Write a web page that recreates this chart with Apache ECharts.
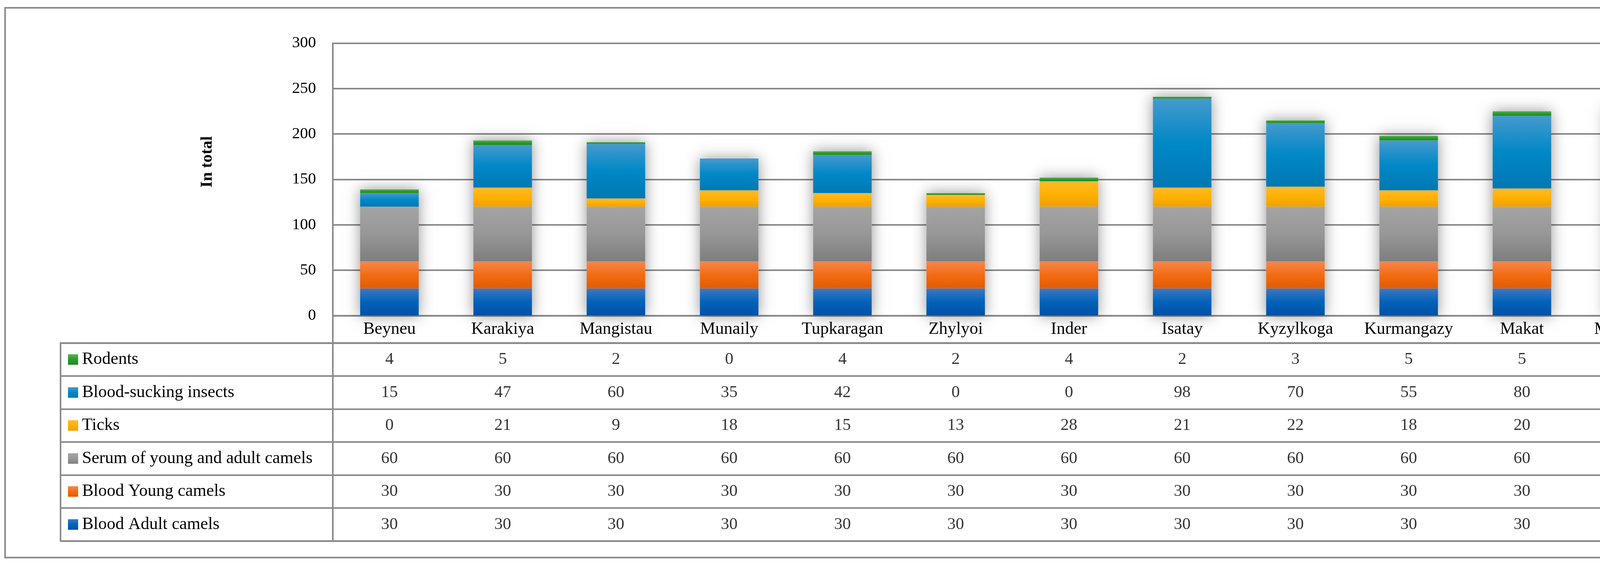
<!DOCTYPE html>
<html>
<head>
<meta charset="utf-8">
<script src="https://cdn.jsdelivr.net/npm/echarts@6.0.0/dist/echarts.min.js"></script>
<style>
html,body{margin:0;padding:0;background:#fff;}
#chart{width:4444px;height:1447px;}
</style>
</head>
<body>
<div id="chart"></div>
<script>
// ---- data ----
const districts = ['Beyneu','Karakiya','Mangistau','Munaily','Tupkaragan','Zhylyoi','Inder','Isatay','Kyzylkoga','Kurmangazy','Makat','Makhambet'];
const bloodAdultCamels = [30,30,30,30,30,30,30,30,30,30,30,30];
const bloodYoungCamels = [30,30,30,30,30,30,30,30,30,30,30,30];
const serumCamels      = [60,60,60,60,60,60,60,60,60,60,60,60];
const ticks            = [0,21,9,18,15,13,28,21,22,18,20,20];
const bloodSuckingInsects = [15,47,60,35,42,0,0,98,70,55,80,85];
const rodents          = [4,5,2,0,4,2,4,2,3,5,5,4];
const seriesNames = ['Blood Adult camels','Blood Young camels','Serum of young and adult camels','Ticks','Blood-sucking insects','Rodents'];
const yAxisMin = 0, yAxisMax = 300, yAxisStep = 50;
const yAxisTitle = 'In total';

// ---- styling ----
const FONT = "'Palatino Linotype','Book Antiqua',Palatino,'Liberation Serif',serif";
const LINE = '#898989';
const grad = (c) => new echarts.graphic.LinearGradient(0,0,0,1,[
  {offset:0,color:c[0]},{offset:0.5,color:c[1]},{offset:1,color:c[2]}]);
const palettes = [
  ['#3f78c3','#0062b9','#0051a5'],
  ['#f5874f','#f36c14','#e35b00'],
  ['#a4a4a4','#979797','#7e7e7e'],
  ['#ffb92e','#ffb100','#f0a000'],
  ['#469acd','#0088c7','#0078b2'],
  ['#5cb258','#2a9a2a','#1d8a1d']
];
const seriesData = [bloodAdultCamels, bloodYoungCamels, serumCamels, ticks, bloodSuckingInsects, rodents];
const totals = districts.map((d,i)=>seriesData.reduce((s,arr)=>s+arr[i],0));

const BAR_W = '51.7%';
const series = [];
// shadow backdrop for each whole column
series.push({
  type:'bar', name:'_shadow', data: totals, xAxisIndex:0, yAxisIndex:0,
  barWidth: BAR_W, barGap:'-100%', z:1, silent:true,
  itemStyle:{color:'#ffffff', shadowBlur:34, shadowColor:'rgba(0,0,0,0.42)'}
});
seriesNames.forEach((n,k)=>{
  series.push({
    type:'bar', name:n, stack:'total', data: seriesData[k],
    xAxisIndex:0, yAxisIndex:0, barWidth: BAR_W, barGap:'-100%', z:3,
    itemStyle:{color: grad(palettes[k])}
  });
});
// table cells
const cellData = [];
seriesNames.forEach((n,k)=>{
  districts.forEach((d,i)=>{ cellData.push({value:[d, n, seriesData[k][i]]}); });
});
series.push({
  type:'scatter', xAxisIndex:3, yAxisIndex:3, data: cellData, symbolSize:1,
  itemStyle:{color:'rgba(0,0,0,0)'}, silent:true,
  label:{show:true, position:'inside', formatter:(p)=>String(p.value[2]),
    fontFamily:FONT, fontSize:43, color:'#000'}
});

const rich = {t:{fontFamily:FONT, fontSize:44, color:'#000', padding:[0,0,0,10]}};
seriesNames.forEach((n,k)=>{
  rich['s'+k] = {width:26, height:27, backgroundColor: grad(palettes[k])};
});

const option = {
  backgroundColor:'#ffffff',
  animation:false,
  graphic:[{type:'rect', shape:{x:13, y:20, width:4409, height:1408},
    style:{fill:'none', stroke:LINE, lineWidth:4}, silent:true, z:-1}],
  grid:[
    {left:852, right:113, top:110.5, bottom:638.5, show:false},
    {left:852, right:113, top:808.5, height:70, show:true, borderColor:LINE, borderWidth:4},
    {left:155, width:697, top:878.5, height:507, show:true, borderColor:LINE, borderWidth:4},
    {left:852, right:113, top:878.5, height:507, show:true, borderColor:LINE, borderWidth:4}
  ],
  xAxis:[
    {type:'category', gridIndex:0, data:districts,
      axisLine:{show:true, lineStyle:{color:LINE, width:4}}, axisTick:{show:false},
      axisLabel:{show:false}, splitLine:{show:false}},
    {type:'category', gridIndex:1, data:districts,
      axisLine:{show:false}, axisTick:{show:false}, splitLine:{show:false},
      axisLabel:{show:true, inside:true, interval:0, margin:35, verticalAlign:'middle',
        fontFamily:FONT, fontSize:44, color:'#000'}},
    {type:'value', gridIndex:2, min:0, max:1, show:false},
    {type:'category', gridIndex:3, data:districts, show:false}
  ],
  yAxis:[
    {type:'value', gridIndex:0, min:yAxisMin, max:yAxisMax, interval:yAxisStep,
      name:yAxisTitle, nameLocation:'middle', nameGap:300,
      nameTextStyle:{fontFamily:FONT, fontSize:42, fontWeight:'bold', color:'#000', padding:[0,0,0,90]},
      axisLine:{show:true, lineStyle:{color:LINE, width:4}}, axisTick:{show:false},
      splitLine:{show:true, lineStyle:{color:LINE, width:4}},
      axisLabel:{fontFamily:FONT, fontSize:41, color:'#000', margin:43}},
    {type:'value', gridIndex:1, show:false},
    {type:'category', gridIndex:2, data:seriesNames,
      axisLine:{show:false}, axisTick:{show:false},
      splitLine:{show:true, interval:0, lineStyle:{color:LINE, width:4}},
      axisLabel:{show:true, inside:true, interval:0, margin:19, align:'left',
        formatter:(v)=>'{s'+seriesNames.indexOf(v)+'|}{t|'+v+'}', rich:rich}},
    {type:'category', gridIndex:3, data:seriesNames,
      axisLine:{show:false}, axisTick:{show:false}, axisLabel:{show:false},
      splitLine:{show:true, interval:0, lineStyle:{color:LINE, width:4}}}
  ],
  series: series
};

const chart = echarts.init(document.getElementById('chart'), null, {renderer:'canvas'});
chart.setOption(option);
</script>
</body>
</html>
